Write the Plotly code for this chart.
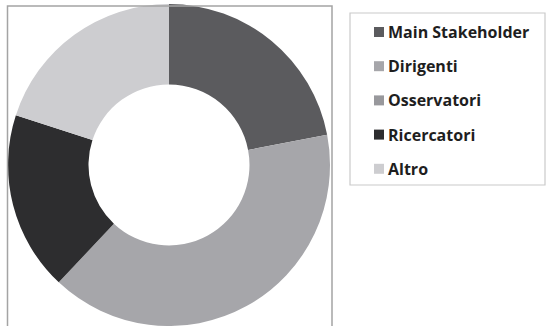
import plotly.graph_objects as go

# Distribution of participants by group (percent)
labels = ["Main Stakeholder", "Dirigenti", "Osservatori", "Ricercatori", "Altro"]
values = [22, 40, 0, 18, 20]
colors = ["#5b5b5e", "#a6a6aa", "#98989c", "#2d2d2f", "#cdcdd0"]

W, H = 546, 326


def px(x):
    return x / W


def py(y):
    # pixel offset from the top -> paper fraction from the bottom
    return 1 - y / H


fig = go.Figure()

# Donut: centred near x=169, radius ~161 px
cx, r = 169, 161
fig.add_trace(go.Pie(
    labels=labels,
    values=values,
    marker=dict(colors=colors, line=dict(width=0)),
    hole=0.5,
    sort=False,
    direction="clockwise",
    rotation=0,
    textinfo="none",
    hoverinfo="label+percent",
    showlegend=False,
    domain=dict(x=[px(cx - r), px(cx + r)], y=[0, (2 * r) / H]),
))

shapes = [
    # frame around the donut
    dict(type="rect", xref="paper", yref="paper",
         x0=px(7.5), x1=px(332), y0=-0.05, y1=py(6),
         line=dict(color="#a4a4a4", width=1.5), fillcolor="rgba(0,0,0,0)", layer="above"),
    # frame around the key
    dict(type="rect", xref="paper", yref="paper",
         x0=px(350), x1=px(545), y0=py(185), y1=py(13),
         line=dict(color="#cacaca", width=1.2), fillcolor="rgba(0,0,0,0)"),
]

annotations = []
row0, step, sw = 32, 34.2, 10
for i, (lab, col) in enumerate(zip(labels, colors)):
    yc = row0 + i * step
    shapes.append(dict(type="rect", xref="paper", yref="paper",
                       x0=px(374), x1=px(374 + sw),
                       y0=py(yc + sw / 2), y1=py(yc - sw / 2),
                       line=dict(width=0), fillcolor=col))
    annotations.append(dict(
        text=f"<b>{lab}</b>", xref="paper", yref="paper",
        x=px(386), y=py(yc), xanchor="left", yanchor="middle",
        showarrow=False, font=dict(family="Open Sans", size=16, color="#1e1e1e"),
    ))

fig.update_layout(
    width=W, height=H,
    margin=dict(l=0, r=0, t=0, b=0),
    paper_bgcolor="white",
    plot_bgcolor="white",
    shapes=shapes,
    annotations=annotations,
)

fig.write_html("out.html")
